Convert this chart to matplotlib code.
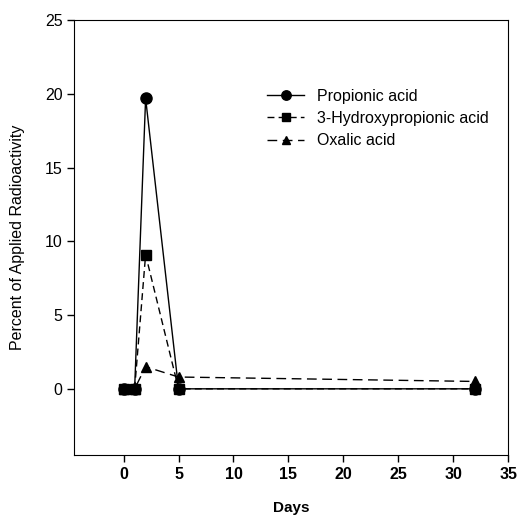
import matplotlib
matplotlib.use("Agg")
import matplotlib.pyplot as plt

plt.rcParams['font.family'] = ['Liberation Sans', 'DejaVu Sans']

days = [0, 1, 2, 5, 32]
propionic = [0, 0, 19.7, 0, 0]
hydroxy = [0, 0, 9.1, 0, 0]
oxalic = [0, 0, 1.5, 0.8, 0.5]

fig = plt.figure(figsize=(5.19, 5.19), dpi=100)
ax = fig.add_axes([0.143, 0.123, 0.836, 0.838])

ax.plot(days, propionic, color='black', lw=1, marker='o', ms=8, label='Propionic acid')
ax.plot(days, hydroxy, color='black', lw=1, ls=(0, (5, 3)), marker='s', ms=7,
        label='3-Hydroxypropionic acid')
ax.plot(days, oxalic, color='black', lw=1, ls=(0, (7, 4)), marker='^', ms=7,
        label='Oxalic acid')

ax.set_xlim(-4.5, 35)
ax.set_ylim(-4.5, 25)
ax.set_xticks(range(0, 36, 5))
ax.set_yticks(range(0, 26, 5))
ax.tick_params(direction='out', length=5, width=1, labelsize=11.5)
for lab in ax.get_xticklabels():
    lab.set_fontweight('bold')
ax.set_xlabel('Days', fontsize=11, fontweight='bold', labelpad=14)
ax.set_ylabel('Percent of Applied Radioactivity', fontsize=11.5, labelpad=14)

ax.legend(loc='upper left', bbox_to_anchor=(0.43, 0.857), frameon=False,
          fontsize=11.5, handlelength=2.3, handletextpad=0.8,
          labelspacing=0.45, borderaxespad=0, markerscale=0.85)

fig.savefig('out.png', dpi=100)
